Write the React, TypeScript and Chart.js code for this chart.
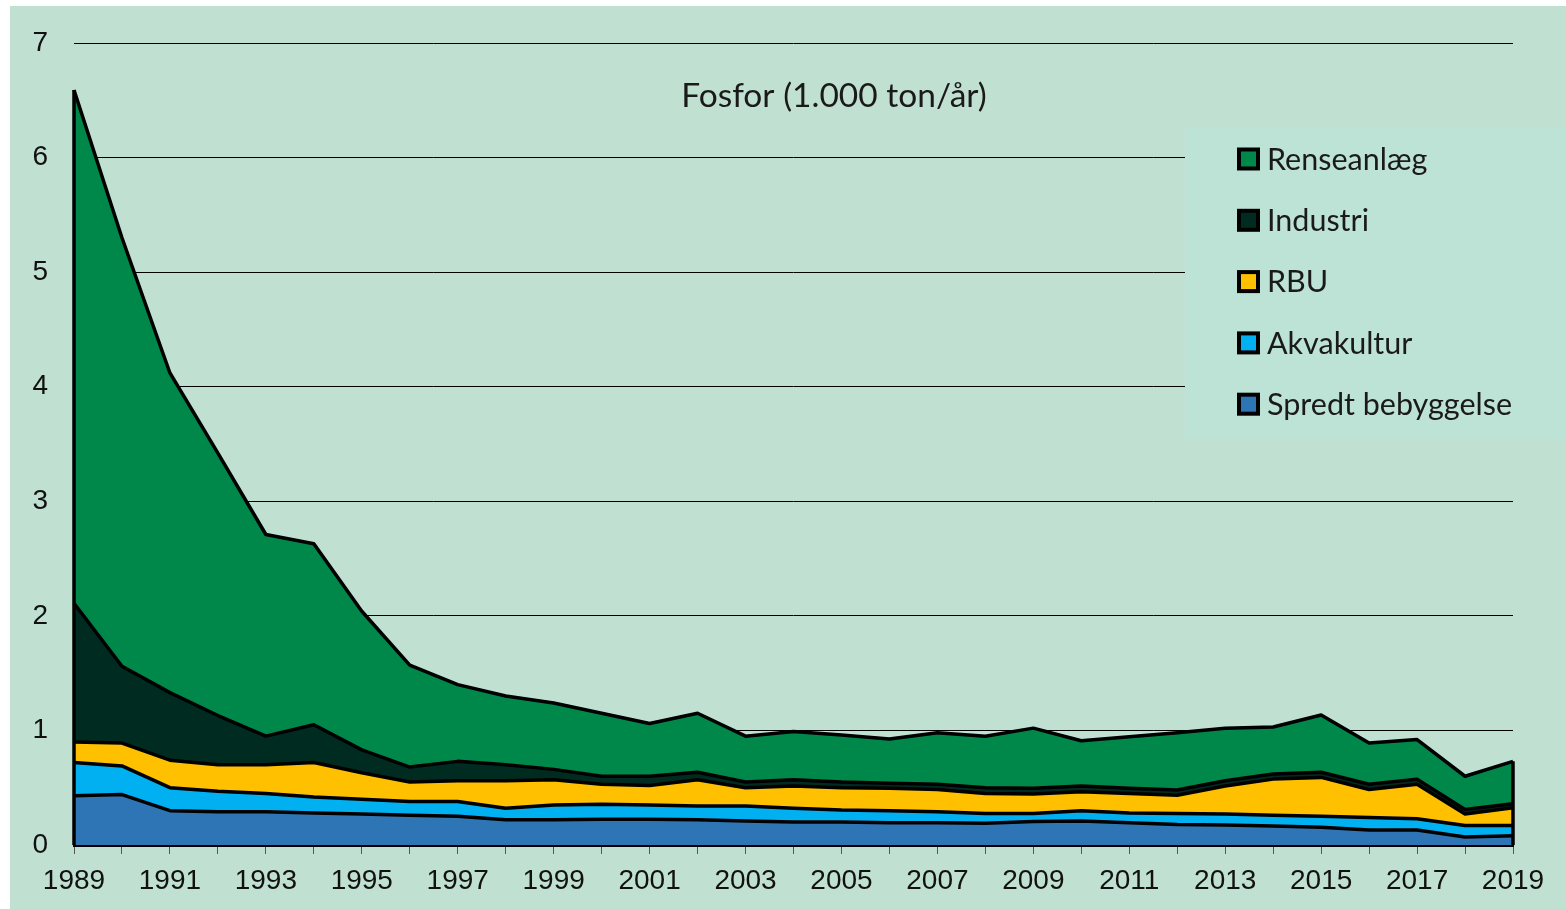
import React, { useEffect, useRef } from "react";
import { Chart, registerables } from "chart.js";

Chart.register(...registerables);

const years = [
  "1989", "1990", "1991", "1992", "1993", "1994", "1995", "1996", "1997", "1998",
  "1999", "2000", "2001", "2002", "2003", "2004", "2005", "2006", "2007", "2008",
  "2009", "2010", "2011", "2012", "2013", "2014", "2015", "2016", "2017", "2018", "2019",
];

const spredt = [
  0.43, 0.44, 0.3, 0.29, 0.29, 0.28, 0.27, 0.26, 0.25, 0.22,
  0.22, 0.225, 0.225, 0.22, 0.21, 0.2, 0.2, 0.195, 0.195, 0.19,
  0.205, 0.21, 0.195, 0.18, 0.175, 0.165, 0.155, 0.13, 0.13, 0.07, 0.08,
];
const akvakultur = [
  0.29, 0.25, 0.2, 0.18, 0.16, 0.14, 0.13, 0.12, 0.13, 0.1,
  0.13, 0.13, 0.125, 0.12, 0.13, 0.12, 0.105, 0.105, 0.095, 0.085,
  0.07, 0.09, 0.085, 0.095, 0.095, 0.095, 0.095, 0.11, 0.1, 0.1, 0.09,
];
const rbu = [
  0.18, 0.2, 0.24, 0.23, 0.25, 0.3, 0.23, 0.17, 0.18, 0.24,
  0.22, 0.175, 0.17, 0.23, 0.16, 0.195, 0.195, 0.195, 0.195, 0.175,
  0.17, 0.165, 0.17, 0.16, 0.245, 0.315, 0.34, 0.245, 0.3, 0.1, 0.155,
];
const industri = [
  1.21, 0.67, 0.59, 0.43, 0.25, 0.33, 0.2, 0.13, 0.17, 0.14,
  0.09, 0.07, 0.08, 0.065, 0.05, 0.055, 0.05, 0.045, 0.045, 0.05,
  0.05, 0.05, 0.045, 0.045, 0.045, 0.045, 0.045, 0.045, 0.045, 0.04, 0.035,
];
const renseanlaeg = [
  4.48, 3.74, 2.79, 2.29, 1.76, 1.58, 1.21, 0.89, 0.67, 0.6,
  0.58, 0.55, 0.46, 0.515, 0.4, 0.42, 0.41, 0.385, 0.45, 0.45,
  0.525, 0.395, 0.45, 0.5, 0.46, 0.41, 0.5, 0.36, 0.345, 0.29, 0.37,
];

const yTicks = [0, 1, 2, 3, 4, 5, 6, 7];
const titleText = "Fosfor (1.000 ton/år)";

const seriesNames = ["Spredt bebyggelse", "Akvakultur", "RBU", "Industri", "Renseanlæg"];
const seriesColors = ["#2e75b6", "#00b0f0", "#ffc000", "#002b20", "#00874a"];
const seriesData = [spredt, akvakultur, rbu, industri, renseanlaeg];

const PANEL_BG = "#c0e1d2";
const LEGEND_BG = "#bde2d6";
const TEXT_FONT = "Lato, 'Open Sans', sans-serif";
const TICK_FONT = "'Liberation Sans', Arial, sans-serif";

const decorPlugin = {
  id: "decor",
  beforeDraw(chart: any) {
    const ctx = chart.ctx;
    ctx.save();
    ctx.fillStyle = "#ffffff";
    ctx.fillRect(0, 0, chart.width, chart.height);
    ctx.fillStyle = PANEL_BG;
    ctx.fillRect(10, 6, chart.width - 10, chart.height - 6);
    ctx.restore();
  },
  afterDatasetsDraw(chart: any) {
    const ctx = chart.ctx;
    const x = chart.scales.x;
    const y = chart.scales.y;
    const n = years.length;
    const totalFirst = seriesData.reduce((s, d) => s + d[0], 0);
    const totalLast = seriesData.reduce((s, d) => s + d[n - 1], 0);
    ctx.save();
    ctx.strokeStyle = "#000";
    ctx.lineWidth = 3.5;
    ctx.beginPath();
    ctx.moveTo(x.getPixelForValue(0), y.getPixelForValue(0));
    ctx.lineTo(x.getPixelForValue(0), y.getPixelForValue(totalFirst));
    ctx.moveTo(x.getPixelForValue(n - 1), y.getPixelForValue(0));
    ctx.lineTo(x.getPixelForValue(n - 1), y.getPixelForValue(totalLast));
    ctx.stroke();
    ctx.restore();
  },
  afterDraw(chart: any) {
    const ctx = chart.ctx;
    ctx.save();
    ctx.fillStyle = "#1a1a1a";
    ctx.font = `33.5px ${TEXT_FONT}`;
    ctx.textAlign = "center";
    ctx.textBaseline = "middle";
    ctx.fillText(titleText, 834, 96);

    ctx.fillStyle = LEGEND_BG;
    ctx.fillRect(1185, 127, chart.width - 1185, 313);
    const order = [4, 3, 2, 1, 0];
    ctx.font = `30.5px ${TEXT_FONT}`;
    ctx.textAlign = "left";
    order.forEach((idx, i) => {
      const yc = 159 + i * 61.3;
      ctx.fillStyle = "#000";
      ctx.fillRect(1237, yc - 11.5, 23, 23);
      ctx.fillStyle = seriesColors[idx];
      ctx.fillRect(1241, yc - 7.5, 15, 15);
      ctx.fillStyle = "#1a1a1a";
      ctx.fillText(seriesNames[idx], 1267, yc + 1);
    });
    ctx.restore();
  },
};

export default function App() {
  const ref = useRef<HTMLCanvasElement>(null);

  useEffect(() => {
    document.body.style.margin = "0";
    const canvas = ref.current;
    if (!canvas) return;
    const datasets = seriesData.map((d, i) => ({
      label: seriesNames[i],
      data: d,
      backgroundColor: seriesColors[i],
      borderColor: "#000000",
      borderWidth: 3.5,
      pointRadius: 0,
      tension: 0,
      fill: i === 0 ? "origin" : "-1",
      borderJoinStyle: "round" as const,
    }));
    const chart = new Chart(canvas, {
      type: "line",
      data: { labels: years, datasets },
      plugins: [decorPlugin],
      options: {
        animation: false,
        responsive: false,
        devicePixelRatio: 1,
        layout: { padding: { left: 0, right: 53, top: 43, bottom: 0 } },
        plugins: {
          legend: { display: false },
          title: { display: false },
          tooltip: { enabled: false },
          filler: { drawTime: "beforeDatasetsDraw" },
        },
        scales: {
          x: {
            type: "category",
            offset: false,
            grid: {
              display: true,
              drawOnChartArea: false,
              drawTicks: true,
              tickLength: 9,
              color: "#555555",
              offset: false,
            },
            border: { display: true, color: "#000000", width: 3 },
            ticks: {
              autoSkip: false,
              maxRotation: 0,
              minRotation: 0,
              padding: 10,
              color: "#111111",
              font: { family: TICK_FONT, size: 28 },
              callback: (_v: any, i: number) => (i % 2 === 0 ? years[i] : ""),
            },
            afterFit: (scale: any) => {
              scale.height = 64;
            },
          },
          y: {
            stacked: true,
            min: 0,
            max: 7,
            afterBuildTicks: (scale: any) => {
              scale.ticks = yTicks.map((v) => ({ value: v }));
            },
            grid: {
              display: true,
              drawTicks: false,
              color: "#000000",
              lineWidth: 1,
            },
            border: { display: false },
            ticks: {
              padding: 26,
              color: "#111111",
              font: { family: TICK_FONT, size: 28 },
            },
            afterFit: (scale: any) => {
              scale.width = 74;
            },
          },
        },
      },
    });
    return () => chart.destroy();
  }, []);

  return (
    <div style={{ position: "relative", width: 1566, height: 909 }}>
      <canvas ref={ref} width={1566} height={909} style={{ display: "block", width: 1566, height: 909 }} />
    </div>
  );
}
